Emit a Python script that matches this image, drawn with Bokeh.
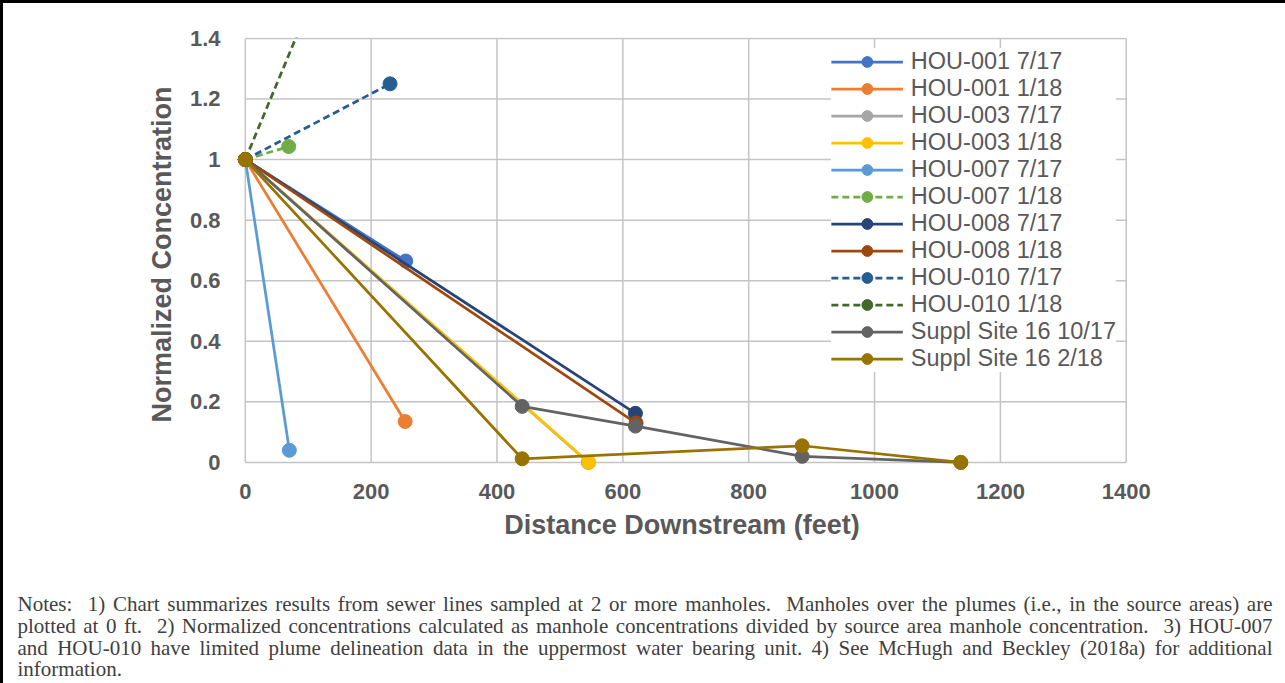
from bokeh.plotting import figure
from bokeh.models import Range1d, FixedTicker, Legend, LegendItem
from bokeh.layouts import column
from bokeh.embed import file_html
from bokeh.resources import INLINE
from bokeh.core.properties import value

# ---------------- data ----------------
series_names = ["HOU-001 7/17", "HOU-001 1/18", "HOU-003 7/17", "HOU-003 1/18",
                "HOU-007 7/17", "HOU-007 1/18", "HOU-008 7/17", "HOU-008 1/18",
                "HOU-010 7/17", "HOU-010 1/18", "Suppl Site 16 10/17", "Suppl Site 16 2/18"]

hou001_jul17_dist = [0, 255]
hou001_jul17_conc = [1.0, 0.665]
hou001_jan18_dist = [0, 254]
hou001_jan18_conc = [1.0, 0.135]
hou003_jul17_dist = [0, 545]
hou003_jul17_conc = [1.0, 0.0]
hou003_jan18_dist = [0, 546]
hou003_jan18_conc = [1.0, 0.0]
hou007_jul17_dist = [0, 70]
hou007_jul17_conc = [1.0, 0.04]
hou007_jan18_dist = [0, 69]
hou007_jan18_conc = [1.0, 1.043]
hou008_jul17_dist = [0, 620]
hou008_jul17_conc = [1.0, 0.162]
hou008_jan18_dist = [0, 621]
hou008_jan18_conc = [1.0, 0.13]
hou010_jul17_dist = [0, 230]
hou010_jul17_conc = [1.0, 1.25]
hou010_jan18_dist = [0, 250]
hou010_jan18_conc = [1.0, 2.25]
suppl16_oct17_dist = [0, 440, 620, 885, 1137]
suppl16_oct17_conc = [1.0, 0.185, 0.12, 0.02, 0.0]
suppl16_feb18_dist = [0, 440, 885, 1137]
suppl16_feb18_conc = [1.0, 0.012, 0.055, 0.0]

x_ticks = [0, 200, 400, 600, 800, 1000, 1200, 1400]
x_tick_labels = ["0", "200", "400", "600", "800", "1000", "1200", "1400"]
y_ticks = [0, 0.2, 0.4, 0.6, 0.8, 1, 1.2, 1.4]
y_tick_labels = ["0", "0.2", "0.4", "0.6", "0.8", "1", "1.2", "1.4"]

x_title = "Distance Downstream (feet)"
y_title = "Normalized Concentration"

notes_lines = [
    "Notes:  1) Chart summarizes results from sewer lines sampled at 2 or more manholes.  Manholes over the plumes (i.e., in the source areas) are",
    "plotted at 0 ft.  2) Normalized concentrations calculated as manhole concentrations divided by source area manhole concentration.  3) HOU-007",
    "and HOU-010 have limited plume delineation data in the uppermost water bearing unit. 4) See McHugh and Beckley (2018a) for additional",
    "information.",
]

# ---------------- styles ----------------
colors = ["#4472C4", "#ED7D31", "#A5A5A5", "#FFC000", "#5B9BD5", "#70AD47",
          "#264478", "#9E480E", "#255E91", "#43682B", "#636363", "#997300"]
dashes = ["solid", "solid", "solid", "solid", "solid", "7 4",
          "solid", "solid", "7 4", "7 4", "solid", "solid"]

series_data = [
    (hou001_jul17_dist, hou001_jul17_conc), (hou001_jan18_dist, hou001_jan18_conc),
    (hou003_jul17_dist, hou003_jul17_conc), (hou003_jan18_dist, hou003_jan18_conc),
    (hou007_jul17_dist, hou007_jul17_conc), (hou007_jan18_dist, hou007_jan18_conc),
    (hou008_jul17_dist, hou008_jul17_conc), (hou008_jan18_dist, hou008_jan18_conc),
    (hou010_jul17_dist, hou010_jul17_conc), (hou010_jan18_dist, hou010_jan18_conc),
    (suppl16_oct17_dist, suppl16_oct17_conc), (suppl16_feb18_dist, suppl16_feb18_conc),
]

TXT = "#595959"
GRID = "#C4C4C4"
W = 1282

p = figure(width=W, height=585,
           x_range=Range1d(-14, 1402), y_range=Range1d(-0.03, 1.403),
           output_backend="svg", toolbar_location=None,
           min_border_left=233, min_border_right=W - 233 - 891,
           min_border_top=34, min_border_bottom=117)
p.frame_align = False
p.outline_line_color = None
p.grid.visible = False
p.background_fill_color = "white"
p.border_fill_color = "white"

# gridlines bounded to the data area
n = len(x_ticks)
m = len(y_ticks)
p.segment(x0=x_ticks, x1=x_ticks, y0=[y_ticks[0]] * n, y1=[y_ticks[-1]] * n,
          line_color=GRID, line_width=1.5, level="underlay")
p.segment(x0=[x_ticks[0]] * m, x1=[x_ticks[-1]] * m, y0=y_ticks, y1=y_ticks,
          line_color=GRID, line_width=1.5, level="underlay")

items = []
for name, (xs, ys), c, d in zip(series_names, series_data, colors, dashes):
    lr = p.line(xs, ys, line_color=c, line_width=2.75, line_dash=d)
    sr = p.scatter(xs, ys, size=14, fill_color=c, line_color=c, marker="circle")
    items.append(LegendItem(label=name, renderers=[lr, sr]))

p.xaxis.ticker = FixedTicker(ticks=x_ticks)
p.yaxis.ticker = FixedTicker(ticks=y_ticks)
p.xaxis.major_label_overrides = {t: l for t, l in zip(x_ticks, x_tick_labels)}
p.yaxis.major_label_overrides = {t: l for t, l in zip(y_ticks, y_tick_labels)}

for ax in (p.xaxis[0], p.yaxis[0]):
    ax.axis_line_color = None
    ax.major_tick_line_color = None
    ax.minor_tick_line_color = None
    ax.major_tick_out = 0
    ax.major_tick_in = 0
    ax.major_label_text_font = "Liberation Sans"
    ax.major_label_text_font_style = "bold"
    ax.major_label_text_font_size = "22px"
    ax.major_label_text_color = TXT
    ax.axis_label_text_font = "Liberation Sans"
    ax.axis_label_text_font_style = "bold"
    ax.axis_label_text_font_size = "27px"
    ax.axis_label_text_color = TXT

p.xaxis.axis_label = x_title
p.yaxis.axis_label = y_title
p.xaxis.major_label_standoff = 12
p.xaxis.axis_label_standoff = 8
p.yaxis.major_label_standoff = 16
p.yaxis.axis_label_standoff = 10

legend = Legend(items=items, location="top_right", margin=11, padding=3,
                spacing=0, glyph_width=72, glyph_height=27, label_height=27,
                label_standoff=8,
                label_text_font="Liberation Sans", label_text_font_size="23.5px",
                label_text_color=TXT,
                background_fill_color="white", background_fill_alpha=1.0,
                border_line_color=None)
p.add_layout(legend)

# ---------------- notes panel ----------------
tnr = {' ': 250, '!': 333, '(': 333, ')': 333, ',': 250, '-': 333, '.': 250, '/': 278,
       ':': 278, ';': 278}
for ch in "0123456789":
    tnr[ch] = 500
tnr.update({'A': 722, 'B': 667, 'C': 667, 'D': 722, 'E': 611, 'F': 556, 'G': 722, 'H': 722,
            'I': 333, 'J': 389, 'K': 722, 'L': 611, 'M': 889, 'N': 722, 'O': 722, 'P': 556,
            'Q': 722, 'R': 667, 'S': 556, 'T': 611, 'U': 722, 'V': 722, 'W': 944, 'X': 722,
            'Y': 722, 'Z': 611,
            'a': 444, 'b': 500, 'c': 444, 'd': 500, 'e': 444, 'f': 333, 'g': 500, 'h': 500,
            'i': 278, 'j': 278, 'k': 500, 'l': 278, 'm': 778, 'n': 500, 'o': 500, 'p': 500,
            'q': 500, 'r': 333, 's': 389, 't': 278, 'u': 500, 'v': 500, 'w': 722, 'x': 500,
            'y': 500, 'z': 444})

FS = 21.0
left_x, right_x = 17.0, 1272.0
baselines = [603, 625, 647, 668]


def wwidth(w):
    return sum(tnr.get(ch, 500) for ch in w) * FS / 1000.0


nx, ny, nt = [], [], []
for li, (line, by) in enumerate(zip(notes_lines, baselines)):
    toks = line.split(" ")
    widths = [wwidth(t) for t in toks]
    gaps = len(toks) - 1
    if li < len(notes_lines) - 1 and gaps > 0:
        sp = (right_x - left_x - sum(widths)) / gaps
    else:
        sp = tnr[' '] * FS / 1000.0
    x = left_x
    for t, w in zip(toks, widths):
        if t:
            nx.append(x)
            ny.append(by)
            nt.append(t)
        x += w + sp

H2 = 95
p2 = figure(width=W, height=H2, x_range=Range1d(3, 3 + W), y_range=Range1d(588 + H2, 588),
            output_backend="svg", toolbar_location=None, min_border=0,
            x_axis_type=None, y_axis_type=None)
p2.frame_align = False
p2.grid.visible = False
p2.outline_line_color = None
p2.background_fill_color = "white"
p2.border_fill_color = "white"
p2.text(x=nx, y=ny, text=nt, text_font=value("Liberation Serif"),
        text_font_size=value("21px"), text_color="#404040",
        text_baseline="alphabetic", text_align="left")

layout = column(p, p2, spacing=0,
                styles={"border-left": "3px solid black", "border-top": "3px solid black"})

open("out.html", "w").write(file_html(layout, INLINE))
